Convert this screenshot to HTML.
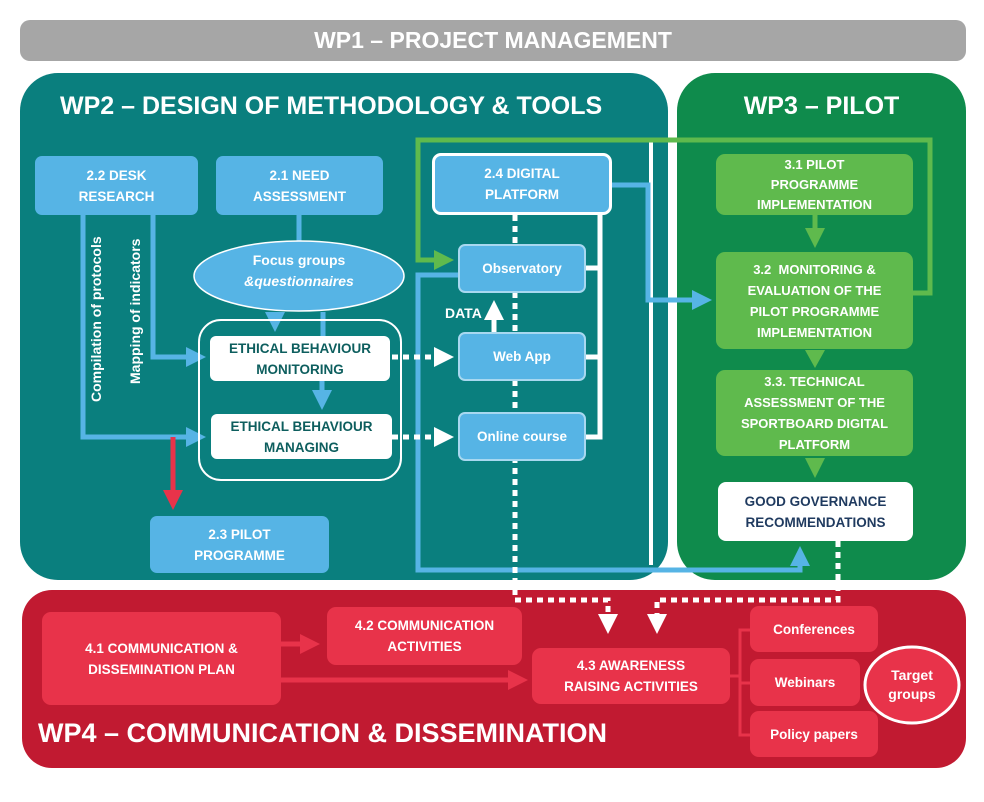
<!DOCTYPE html>
<html><head><meta charset="utf-8"><style>
body{margin:0;width:984px;height:802px;background:#fff;position:relative;overflow:hidden;font-family:"Liberation Sans",sans-serif;font-weight:bold}
.a{position:absolute;box-sizing:border-box;display:flex;align-items:center;justify-content:center;text-align:center;color:#fff}
.b{background:#56b4e5;border-radius:7px;font-size:13.5px;line-height:21px}
.g{background:#5fba4d;border-radius:9px;font-size:13px;line-height:21px}
.r{background:#e8334a;border-radius:9px;font-size:13.5px;line-height:21px}
.w{background:#fff;color:#0d5e5e;border-radius:6px;font-size:13.5px;line-height:21px}
svg{position:absolute;left:0;top:0}
</style></head><body>
<div class="a" style="left:20px;top:20px;width:946px;height:41px;background:#a6a6a6;border-radius:10px;font-size:23px">WP1 – PROJECT MANAGEMENT</div>
<div class="a" style="left:20px;top:73px;width:648px;height:507px;background:#0a7f7e;border-radius:38px"></div>
<div class="a" style="left:677px;top:73px;width:289px;height:507px;background:#0f8b4c;border-radius:38px"></div>
<div class="a" style="left:22px;top:590px;width:944px;height:178px;background:#c11a31;border-radius:30px"></div>
<div class="a" style="left:60px;top:92px;font-size:25px;justify-content:flex-start">WP2 – DESIGN OF METHODOLOGY &amp; TOOLS</div>
<div class="a" style="left:677px;top:92px;width:289px;font-size:25px">WP3 – PILOT</div>
<div class="a" style="left:38px;top:718px;font-size:27px">WP4 – COMMUNICATION &amp; DISSEMINATION</div>

<svg width="984" height="802">
<defs>
<marker id="ab" markerWidth="4" markerHeight="4" refX="2" refY="2" orient="auto"><path d="M0,0L4,2L0,4z" fill="#56b4e5"/></marker>
<marker id="aw" markerWidth="4" markerHeight="4" refX="2" refY="2" orient="auto"><path d="M0,0L4,2L0,4z" fill="#fff"/></marker>
<marker id="ag" markerWidth="4" markerHeight="4" refX="2" refY="2" orient="auto"><path d="M0,0L4,2L0,4z" fill="#5fba4d"/></marker>
<marker id="ar" markerWidth="4" markerHeight="4" refX="2" refY="2" orient="auto"><path d="M0,0L4,2L0,4z" fill="#e8334a"/></marker>
</defs>
<line x1="651" y1="140" x2="651" y2="565" stroke="#fff" stroke-width="4"/>
<g fill="none" stroke="#56b4e5" stroke-width="5">
<polyline points="83,215 83,437 196,437" marker-end="url(#ab)"/>
<polyline points="153,215 153,357 196,357" marker-end="url(#ab)"/>
<line x1="299" y1="215" x2="299" y2="242"/>
<line x1="275" y1="312" x2="275" y2="322" marker-end="url(#ab)"/>
<line x1="323" y1="312" x2="323" y2="336"/>
<line x1="322" y1="381" x2="322" y2="400" marker-end="url(#ab)"/>
<polyline points="612,185 648,185 648,300 702,300" marker-end="url(#ab)"/>
<polyline points="458,275 418,275 418,570 800,570 800,556" marker-end="url(#ab)"/>
</g>
<g fill="none" stroke="#5fba4d" stroke-width="5">
<polyline points="913,293 930,293 930,140 418,140 418,260 444,260" marker-end="url(#ag)"/>
<line x1="815" y1="215" x2="815" y2="238" marker-end="url(#ag)"/>
</g>
<path d="M805,350L825,350L815,368z M805,458L825,458L815,478z" fill="#5fba4d"/>
<line x1="173" y1="437" x2="173" y2="500" stroke="#e8334a" stroke-width="5" marker-end="url(#ar)"/>
<g fill="none" stroke="#fff" stroke-width="5">
<path d="M586,268H600V215 M586,357H600 M586,437H600V268"/>
<line x1="494" y1="332" x2="494" y2="310" marker-end="url(#aw)"/>
</g>
<g fill="none" stroke="#fff" stroke-width="5" stroke-dasharray="6,5">
<line x1="392" y1="357" x2="444" y2="357" marker-end="url(#aw)"/>
<line x1="392" y1="437" x2="444" y2="437" marker-end="url(#aw)"/>
<polyline points="515,215 515,600 608,600 608,624" marker-end="url(#aw)"/>
<polyline points="838,541 838,600 657,600 657,624" marker-end="url(#aw)"/>
</g>
<g fill="none" stroke="#e8334a" stroke-width="5">
<line x1="281" y1="644" x2="310" y2="644" marker-end="url(#ar)"/>
<line x1="281" y1="680" x2="518" y2="680" marker-end="url(#ar)"/>
</g>
<path d="M730,676H740 M752,630H740V735H752 M740,683H752" fill="none" stroke="#e8334a" stroke-width="3"/>
<ellipse cx="299" cy="276" rx="105" ry="35" fill="#56b4e5" stroke="#fff" stroke-width="1.5"/>
<rect x="199" y="320" width="202" height="160" rx="22" fill="none" stroke="#fff" stroke-width="2"/>
<ellipse cx="912" cy="685" rx="47" ry="38" fill="#e8334a" stroke="#fff" stroke-width="3"/>
<text x="299" y="265" fill="#fff" font-size="14" text-anchor="middle" font-weight="bold" font-family="Liberation Sans">Focus groups</text>
<text x="299" y="286" fill="#fff" font-size="14" text-anchor="middle" font-weight="bold" font-style="italic" font-family="Liberation Sans">&amp;questionnaires</text>
<text transform="translate(101,402) rotate(-90)" fill="#fff" font-size="14" font-weight="bold" font-family="Liberation Sans">Compilation of protocols</text>
<text transform="translate(140,384) rotate(-90)" fill="#fff" font-size="14" font-weight="bold" font-family="Liberation Sans">Mapping of indicators</text>
<text x="445" y="318" fill="#fff" font-size="14" font-weight="bold" font-family="Liberation Sans">DATA</text>
<text x="912" y="680" fill="#fff" font-size="14" text-anchor="middle" font-weight="bold" font-family="Liberation Sans">Target</text>
<text x="912" y="699" fill="#fff" font-size="14" text-anchor="middle" font-weight="bold" font-family="Liberation Sans">groups</text>
</svg>

<div class="a b" style="left:35px;top:156px;width:163px;height:59px">2.2 DESK<br>RESEARCH</div>
<div class="a b" style="left:216px;top:156px;width:167px;height:59px">2.1 NEED<br>ASSESSMENT</div>
<div class="a w" style="left:210px;top:336px;width:180px;height:45px">ETHICAL BEHAVIOUR<br>MONITORING</div>
<div class="a w" style="left:211px;top:414px;width:181px;height:45px">ETHICAL BEHAVIOUR<br>MANAGING</div>
<div class="a b" style="left:150px;top:516px;width:179px;height:57px">2.3 PILOT<br>PROGRAMME</div>
<div class="a b" style="left:432px;top:153px;width:180px;height:62px;border:3px solid #fff;border-radius:9px">2.4 DIGITAL<br>PLATFORM</div>
<div class="a b" style="left:458px;top:244px;width:128px;height:49px;border:2px solid #a8d8f0">Observatory</div>
<div class="a b" style="left:458px;top:332px;width:128px;height:49px;border:2px solid #a8d8f0">Web App</div>
<div class="a b" style="left:458px;top:412px;width:128px;height:49px;border:2px solid #a8d8f0">Online course</div>
<div class="a g" style="left:716px;top:154px;width:197px;height:61px;line-height:20px">3.1 PILOT<br>PROGRAMME<br>IMPLEMENTATION</div>
<div class="a g" style="left:716px;top:252px;width:197px;height:97px">3.2 &nbsp;MONITORING &amp;<br>EVALUATION OF THE<br>PILOT PROGRAMME<br>IMPLEMENTATION</div>
<div class="a g" style="left:716px;top:370px;width:197px;height:86px">3.3. TECHNICAL<br>ASSESSMENT OF THE<br>SPORTBOARD DIGITAL<br>PLATFORM</div>
<div class="a w" style="left:718px;top:482px;width:195px;height:59px;color:#1f3a5f;border-radius:8px">GOOD GOVERNANCE<br>RECOMMENDATIONS</div>
<div class="a r" style="left:42px;top:612px;width:239px;height:93px">4.1 COMMUNICATION &amp;<br>DISSEMINATION PLAN</div>
<div class="a r" style="left:327px;top:607px;width:195px;height:58px">4.2 COMMUNICATION<br>ACTIVITIES</div>
<div class="a r" style="left:532px;top:648px;width:198px;height:56px">4.3 AWARENESS<br>RAISING ACTIVITIES</div>
<div class="a r" style="left:750px;top:606px;width:128px;height:46px">Conferences</div>
<div class="a r" style="left:750px;top:659px;width:110px;height:47px">Webinars</div>
<div class="a r" style="left:750px;top:711px;width:128px;height:46px">Policy papers</div>
</body></html>
